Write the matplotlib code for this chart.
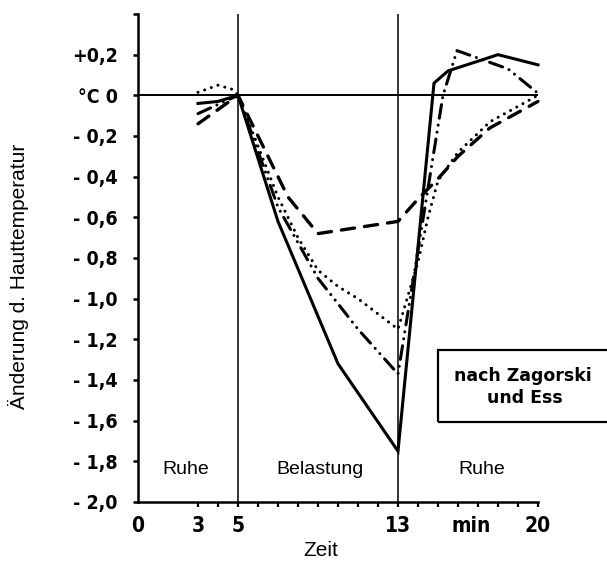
import numpy as np
import matplotlib
matplotlib.use('Agg')
import matplotlib.pyplot as plt
from matplotlib import font_manager
from matplotlib.patches import Rectangle

# Hauttemperatur-Aenderung (degC) ueber Zeit (min)
solid_x   = [3, 4, 5, 7, 10, 13, 14.8, 15.5, 18, 20]
solid_y   = [-0.04, -0.03, 0, -0.62, -1.32, -1.75, 0.06, 0.12, 0.20, 0.15]
dashed_x  = [3, 5, 6.5, 7.5, 9, 13, 14, 15, 16, 17.6, 20]
dashed_y  = [-0.14, 0, -0.30, -0.50, -0.68, -0.62, -0.51, -0.41, -0.30, -0.16, -0.03]
dotted_x  = [3, 4, 4.7, 5, 7, 8, 9, 10, 11, 13, 14, 14.5, 15, 16, 17.6, 20]
dotted_y  = [0.015, 0.05, 0.03, 0, -0.50, -0.70, -0.86, -0.94, -1.00, -1.15,
             -0.82, -0.60, -0.42, -0.28, -0.13, 0.0]
dashdot_x = [3, 5, 7, 9, 11, 13, 15.25, 15.95, 18.5, 20]
dashdot_y = [-0.09, 0, -0.55, -0.90, -1.15, -1.37, 0.0, 0.22, 0.13, 0.01]

ytick_vals = [0.4, 0.2, 0, -0.2, -0.4, -0.6, -0.8, -1.0, -1.2, -1.4, -1.6, -1.8, -2.0]
ytick_lbls = ['', '+0,2', '°C 0', '- 0,2', '- 0,4', '- 0,6', '- 0,8', '- 1,0',
              '- 1,2', '- 1,4', '- 1,6', '- 1,8', '- 2,0']
xtick_vals = [0, 3, 5, 13, 16.65, 20]
xtick_lbls = ['0', '3', '5', '13', 'min', '20']
minor_x    = list(range(3, 21))

phase_x   = [2.4, 9.1, 17.2]
phase_txt = ['Ruhe', 'Belastung', 'Ruhe']
phase_y   = -1.84
marks_x   = [5, 13]

# fonts: schmale fette Schrift fuer die Zahlen, wenn vorhanden
names = set(f.name for f in font_manager.fontManager.ttflist)
plain = 'Liberation Sans' if 'Liberation Sans' in names else 'DejaVu Sans'
tick_font = dict(family='DejaVu Sans', weight='bold')
for f in font_manager.fontManager.ttflist:
    if ('Narrow' in f.name or 'Condensed' in f.name or f.stretch == 'condensed') \
            and f.weight in ('bold', 700):
        tick_font = dict(fname=f.fname)
        break

def tfont(size):
    return font_manager.FontProperties(size=size, **tick_font)

W, H = 607, 562
fig = plt.figure(figsize=(W / 100, H / 100), dpi=100)
ax = fig.add_axes([138 / W, 1 - 502 / H, 400 / W, 488 / H])

ax.set_xlim(0, 20)
ax.set_ylim(-2.0, 0.4)

# Achsenkreuz
ax.axhline(0, color='black', lw=1.4, zorder=1)
for xm in marks_x:
    ax.axvline(xm, color='black', lw=1.1, zorder=1)

ax.plot(solid_x, solid_y, color='black', lw=2.2, solid_joinstyle='miter', clip_on=False)
ax.plot(dashed_x, dashed_y, color='black', lw=2.4, linestyle=(0, (4.0, 3.0)),
        dash_capstyle='round', clip_on=False)
ax.plot(dotted_x, dotted_y, color='black', lw=2.2, linestyle=(0, (0.01, 2.3)),
        dash_capstyle='round', clip_on=False)
ax.plot(dashdot_x, dashdot_y, color='black', lw=2.2,
        linestyle=(0, (4.5, 2.3, 0.01, 2.3, 0.01, 2.3)),
        dash_capstyle='round', clip_on=False)

for s in ['top', 'right']:
    ax.spines[s].set_visible(False)
for s in ['left', 'bottom']:
    ax.spines[s].set_linewidth(1.8)

ax.set_yticks(ytick_vals)
ax.set_yticklabels(ytick_lbls, fontproperties=tfont(14))
ax.tick_params(axis='y', direction='out', length=3.6, width=1.8, pad=11)

ax.xaxis.remove_overlapping_locs = False
ax.set_xticks(xtick_vals)
ax.set_xticklabels(xtick_lbls, fontproperties=tfont(15))
ax.set_xticks(minor_x, minor=True)
ax.tick_params(axis='x', which='major', length=0, pad=10)
ax.tick_params(axis='x', which='minor', direction='out', length=3.6, width=1.6)

for px, t in zip(phase_x, phase_txt):
    ax.text(px, phase_y, t, ha='center', va='center', fontsize=14, fontfamily=plain)

fig.text(18 / W, 1 - 276 / H, 'Änderung d. Hauttemperatur', rotation=90,
         ha='center', va='center', fontsize=15, fontfamily=plain)
fig.text(321 / W, 1 - 551 / H, 'Zeit', ha='center', va='center',
         fontsize=15, fontfamily=plain)

# Quellenkasten
fig.add_artist(Rectangle((438 / W, 140 / H), 0.4, 72 / H, transform=fig.transFigure,
                         fill=False, lw=1.6, color='black'))
fig.text(523 / W, 1 - 376 / H, 'nach Zagorski', ha='center', va='center',
         fontsize=12.5, fontweight='bold')
fig.text(525 / W, 1 - 398 / H, 'und Ess', ha='center', va='center',
         fontsize=12.5, fontweight='bold')

fig.savefig('out.png', dpi=100)
